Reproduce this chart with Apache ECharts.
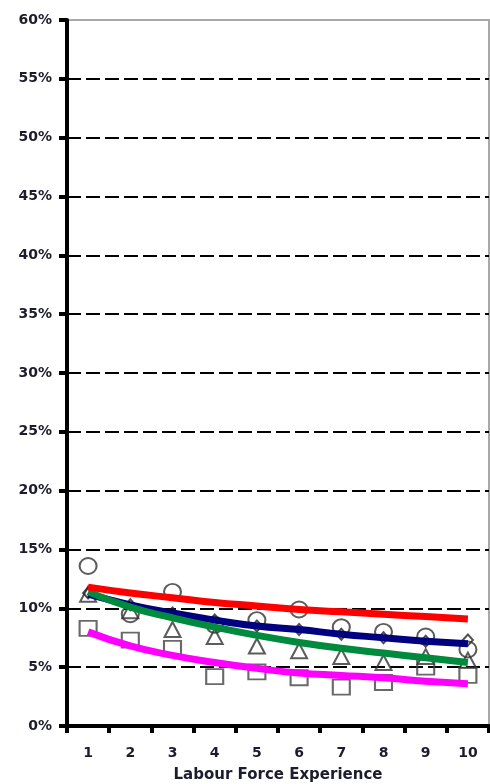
<!DOCTYPE html>
<html>
<head>
<meta charset="utf-8">
<style>
  html, body { margin: 0; padding: 0; background: #fff; }
  #chart { width: 490px; height: 784px; }
</style>
<script src="https://cdn.jsdelivr.net/npm/echarts@6/dist/echarts.min.js"></script>
</head>
<body>
<div id="chart"></div>
<script>
// Years of labour force experience
const categories = ['1', '2', '3', '4', '5', '6', '7', '8', '9', '10'];

// Observed rates (%), one marker shape per group
const observedCircle   = [13.6, 9.5, 11.4, 8.6, 9.0, 9.9, 8.4, 8.0, 7.6, 6.5];
const observedDiamond  = [11.3, 10.3, 9.6, 9.0, 8.5, 8.2, 7.8, 7.5, 7.2, 7.3];
const observedTriangle = [11.2, 9.8, 8.2, 7.6, 6.8, 6.4, 5.9, 5.4, 5.9, 5.6];
const observedSquare   = [8.3, 7.3, 6.6, 4.2, 4.6, 4.1, 3.3, 3.7, 5.0, 4.3];

// Fitted rates (%)
const fittedRed     = [11.8, 11.3, 10.9, 10.5, 10.2, 9.9, 9.7, 9.5, 9.3, 9.1];
const fittedNavy    = [11.2, 10.3, 9.6, 9.0, 8.5, 8.2, 7.8, 7.5, 7.2, 7.0];
const fittedGreen   = [11.4, 10.1, 9.2, 8.4, 7.7, 7.1, 6.6, 6.2, 5.8, 5.4];
const fittedMagenta = [8.0, 6.8, 6.0, 5.4, 4.9, 4.5, 4.3, 4.1, 3.8, 3.6];

const axisTitle = 'Labour Force Experience';

const textColor = '#1c1c2c';
const fontFamily = '"DejaVu Sans", Arial, sans-serif';

function markers(data, symbol, size, stroke) {
  return {
    type: 'scatter',
    data: data,
    symbol: symbol,
    symbolSize: size,
    z: 2,
    itemStyle: { color: 'rgba(0,0,0,0)', borderColor: stroke, borderWidth: 2 },
    silent: true
  };
}

function fit(data, color, z) {
  return {
    type: 'line',
    data: data,
    smooth: true,
    showSymbol: false,
    z: z,
    lineStyle: { color: color, width: 7 },
    silent: true
  };
}

const chart = echarts.init(document.getElementById('chart'), null, { renderer: 'canvas' });
chart.setOption({
  backgroundColor: '#fff',
  animation: false,
  grid: {
    left: 67, right: 1, top: 20, bottom: 58,
    containLabel: false,
    outerBoundsMode: 'none',
    show: true, borderColor: '#a8a8a8', borderWidth: 2, backgroundColor: 'transparent'
  },
  xAxis: {
    type: 'category',
    data: categories,
    boundaryGap: true,
    name: axisTitle,
    nameLocation: 'middle',
    nameGap: 42,
    nameTextStyle: { color: textColor, fontFamily: fontFamily, fontWeight: 'bold', fontSize: 15 },
    axisLine: { lineStyle: { color: '#000', width: 4 } },
    axisTick: { show: true, length: 7, lineStyle: { color: '#000', width: 4 } },
    axisLabel: { color: textColor, fontFamily: fontFamily, fontWeight: 'bold', fontSize: 14, margin: 20 },
    splitLine: { show: false }
  },
  yAxis: {
    type: 'value',
    min: 0, max: 60, interval: 5,
    axisLine: { show: true, lineStyle: { color: '#000', width: 4 } },
    axisTick: { show: true, length: 8, lineStyle: { color: '#000', width: 4 } },
    axisLabel: {
      color: textColor, fontFamily: fontFamily, fontWeight: 'bold', fontSize: 14, margin: 15,
      formatter: v => v + '%'
    },
    splitLine: {
      show: true, showMinLine: false, showMaxLine: false,
      lineStyle: { color: '#000', width: 2, type: [14, 5] }
    }
  },
  series: [
    markers(observedSquare, 'rect', [17, 15], '#444'),
    markers(observedTriangle, 'triangle', [16, 15], '#333'),
    markers(observedDiamond, 'diamond', [10, 11], '#222'),
    markers(observedCircle, 'circle', [17, 16], '#333'),
    fit(fittedMagenta, '#ff00ff', 3),
    fit(fittedNavy, '#000080', 4),
    fit(fittedGreen, '#008a3e', 5),
    fit(fittedRed, '#ff0000', 6)
  ]
});
</script>
</body>
</html>
